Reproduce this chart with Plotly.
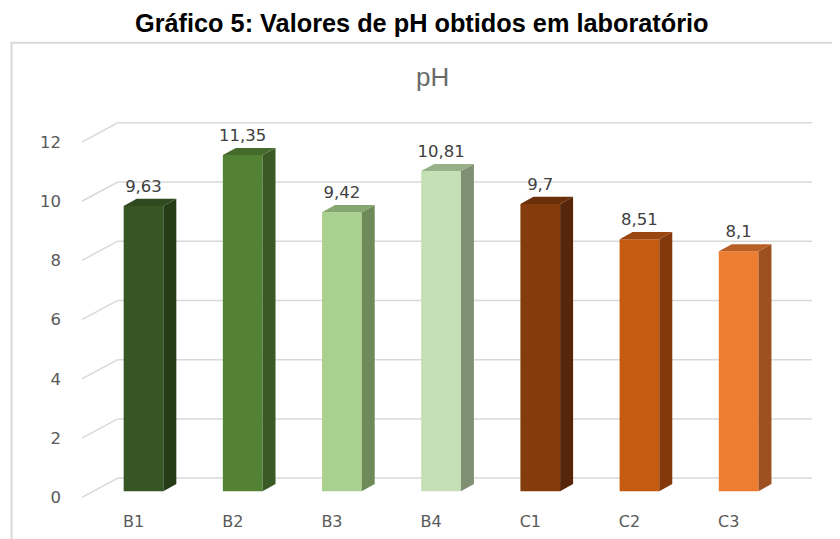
import plotly.graph_objects as go

categories = ["B1", "B2", "B3", "B4", "C1", "C2", "C3"]
ph_values = [9.63, 11.35, 9.42, 10.81, 9.7, 8.51, 8.1]
value_labels = ["9,63", "11,35", "9,42", "10,81", "9,7", "8,51", "8,1"]
y_ticks = [0, 2, 4, 6, 8, 10, 12]

front_colors = ["#375623", "#548235", "#a9d08e", "#c5e0b4", "#843c0c", "#c55a11", "#ed7d31"]
side_colors = ["#263c18", "#3a5a25", "#6d8a58", "#7f8f72", "#57260a", "#83390c", "#9e5020"]
top_colors = ["#2f4a1e", "#446b2b", "#86a66f", "#97b088", "#6a300a", "#9a4610", "#b85f25"]

# geometry (perspective offsets, in data units)
BAR_W = 0.40
DX, DY = 0.131, 0.24          # bar depth offset
FRONT_DY = -0.21              # front floor edge offset of gridlines
BACK_DY = 0.44                # back wall offset of gridlines
X_FRONT, X_BACK, X_END = -0.62, -0.26, 6.74

fig = go.Figure()

xs = list(range(len(categories)))
fig.add_trace(go.Bar(x=xs, y=ph_values, width=BAR_W, marker=dict(color=front_colors, line=dict(width=0)),
                     hoverinfo="skip", showlegend=False))

for i, v in enumerate(ph_values):
    xr = i + BAR_W / 2
    xl = i - BAR_W / 2
    fig.add_trace(go.Scatter(x=[xr, xr + DX, xr + DX, xr, xr], y=[0, DY, v + DY, v, 0],
                             fill="toself", fillcolor=side_colors[i], mode="lines",
                             line=dict(width=0, color=side_colors[i]), hoverinfo="skip", showlegend=False))
    fig.add_trace(go.Scatter(x=[xl, xl + DX, xr + DX, xr, xl], y=[v, v + DY, v + DY, v, v],
                             fill="toself", fillcolor=top_colors[i], mode="lines",
                             line=dict(width=0, color=top_colors[i]), hoverinfo="skip", showlegend=False))

fig.add_trace(go.Scatter(x=xs, y=[v + 0.62 for v in ph_values], mode="text", text=value_labels,
                         textposition="middle center",
                         textfont=dict(family="DejaVu Sans", size=16.5, color="#404040"),
                         hoverinfo="skip", showlegend=False))

shapes = []
for t in y_ticks:
    shapes.append(dict(type="line", xref="x", yref="y", x0=X_FRONT, y0=t + FRONT_DY, x1=X_BACK, y1=t + BACK_DY,
                       line=dict(color="#d9d9d9", width=1.5), layer="below"))
    shapes.append(dict(type="line", xref="x", yref="y", x0=X_BACK, y0=t + BACK_DY, x1=X_END, y1=t + BACK_DY,
                       line=dict(color="#d9d9d9", width=1.5), layer="below"))

# page body has an 8px margin; positions below are in figure pixels
L, R, T, B = 74, 32, 110, 44.15
W, H = 840, 539
pw, ph = W - L - R, H - T - B


def px_x(p):
    return (p - L) / pw


def px_y(p):
    return (H - B - p) / ph


shapes.append(dict(type="rect", xref="paper", yref="paper", x0=px_x(3.5), y0=px_y(560), x1=px_x(860), y1=px_y(34.7),
                   line=dict(color="#d9d9d9", width=2), fillcolor="rgba(0,0,0,0)", layer="below"))

annotations = [
    dict(text="<b>Gráfico 5: Valores de pH obtidos em laboratório</b>", xref="paper", yref="paper",
         x=px_x(414), y=px_y(15.5), showarrow=False, xanchor="center", yanchor="middle",
         font=dict(family="Liberation Sans", size=25.3, color="#000000")),
    dict(text="pH", xref="paper", yref="paper", x=px_x(424), y=px_y(69), showarrow=False,
         xanchor="center", yanchor="middle", font=dict(family="Liberation Sans", size=26, color="#6a6a6a")),
]

fig.update_layout(
    width=W, height=H, margin=dict(l=L, r=R, t=T, b=B, autoexpand=False),
    paper_bgcolor="white", plot_bgcolor="white",
    shapes=shapes, annotations=annotations, showlegend=False,
    xaxis=dict(range=[X_FRONT, X_END + 0.04], tickvals=[i - 0.1 for i in xs], ticktext=categories,
               showgrid=False, zeroline=False, showline=False, ticks="", ticklabelstandoff=7,
               tickfont=dict(family="DejaVu Sans", size=16, color="#595959"), fixedrange=True),
    yaxis=dict(range=[-0.4, 12.6], tickvals=[t + FRONT_DY for t in y_ticks], ticktext=[str(t) for t in y_ticks],
               showgrid=False, zeroline=False, showline=False, ticks="", ticklabelstandoff=20,
               tickfont=dict(family="DejaVu Sans", size=16.5, color="#595959"), fixedrange=True),
)

fig.write_html("out.html")
